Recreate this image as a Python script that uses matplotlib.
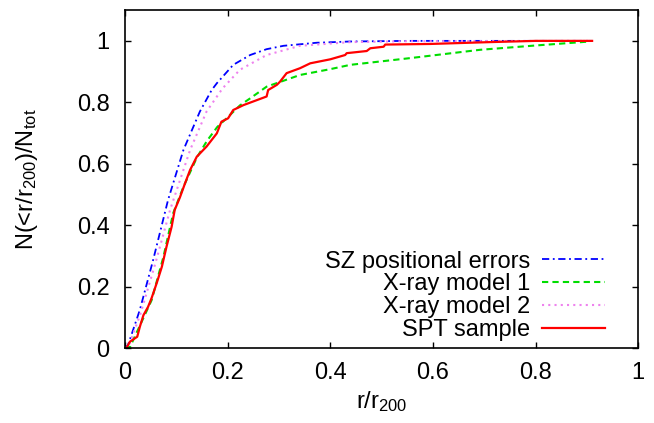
import matplotlib
matplotlib.use("Agg")
import matplotlib.pyplot as plt

# cumulative curves
sz_x = [0, 0.006, 0.029, 0.055, 0.084, 0.114, 0.146, 0.169, 0.179, 0.211, 0.244, 0.276, 0.309, 0.374, 0.439, 0.55, 0.91]
sz_y = [0, 0.01, 0.124, 0.287, 0.482, 0.645, 0.77, 0.84, 0.862, 0.922, 0.954, 0.973, 0.984, 0.994, 0.998, 1.0, 1.0]

xm1_x = [0, 0.01, 0.052, 0.075, 0.094, 0.114, 0.14, 0.16, 0.18, 0.198, 0.224, 0.244, 0.276, 0.341, 0.40, 0.439, 0.556, 0.692, 0.8, 0.906]
xm1_y = [0, 0.004, 0.156, 0.297, 0.439, 0.525, 0.62, 0.675, 0.72, 0.748, 0.79, 0.813, 0.851, 0.889, 0.908, 0.922, 0.944, 0.971, 0.985, 0.998]

xm2_x = [0, 0.008, 0.03, 0.06, 0.088, 0.127, 0.159, 0.19, 0.224, 0.276, 0.341, 0.439, 0.55, 0.91]
xm2_y = [0, 0.01, 0.11, 0.28, 0.45, 0.645, 0.77, 0.845, 0.906, 0.954, 0.984, 0.996, 0.999, 1.0]

spt_x = [0, 0.003, 0.0097, 0.024, 0.029, 0.036, 0.045, 0.052, 0.062, 0.072, 0.081, 0.091, 0.097, 0.107,
         0.117, 0.127, 0.140, 0.159, 0.179, 0.188, 0.201, 0.211, 0.231, 0.276, 0.279, 0.296, 0.302, 0.315,
         0.341, 0.361, 0.40, 0.429, 0.432, 0.471, 0.478, 0.504, 0.507, 0.595, 0.711, 0.8, 0.91]
spt_y = [0, 0, 0.021, 0.037, 0.069, 0.107, 0.134, 0.163, 0.212, 0.265, 0.330, 0.395, 0.450, 0.490,
         0.536, 0.58, 0.623, 0.656, 0.699, 0.737, 0.748, 0.775, 0.791, 0.819, 0.840, 0.857, 0.867, 0.895,
         0.911, 0.927, 0.940, 0.954, 0.960, 0.967, 0.976, 0.981, 0.988, 0.990, 0.996, 1.0, 1.0]

xticks = [0, 0.2, 0.4, 0.6, 0.8, 1]
yticks = [0, 0.2, 0.4, 0.6, 0.8, 1]
tick_labels = ['0', '0.2', '0.4', '0.6', '0.8', '1']

plt.rcParams['font.family'] = ['Liberation Sans', 'DejaVu Sans']
plt.rcParams['mathtext.default'] = 'regular'
fs = 17

fig = plt.figure(figsize=(6.54, 4.23), dpi=100)
ax = fig.add_axes([0.191, 0.177, 0.785, 0.799])

ax.plot(sz_x, sz_y, color='#0000ff', lw=1.3, dashes=(4, 2, 1, 2), label='SZ positional errors')
ax.plot(xm1_x, xm1_y, color='#00dd00', lw=1.5, dashes=(3, 2), label='X-ray model 1')
ax.plot(xm2_x, xm2_y, color='#ee82ee', lw=1.5, dashes=(1, 2), label='X-ray model 2')
ax.plot(spt_x, spt_y, color='#ff0000', lw=1.6, label='SPT sample')

ax.set_xlim(0, 1)
ax.set_ylim(0, 1.1)
ax.set_xticks(xticks)
ax.set_yticks(yticks)
ax.set_xticklabels(tick_labels)
ax.set_yticklabels(tick_labels)
ax.tick_params(direction='in', top=True, right=True, labelsize=fs, length=4.5, width=1)
ax.tick_params(axis='x', pad=10)
ax.tick_params(axis='y', pad=11)
for s in ax.spines.values():
    s.set_linewidth(1.2)

ax.set_xlabel('r/r$_{200}$', fontsize=fs)
ax.set_ylabel('N(<r/r$_{200}$)/N$_{tot}$', fontsize=fs)
ax.xaxis.set_label_coords(0.5, -0.12)
ax.yaxis.set_label_coords(-0.165, 0.5)

ax.legend(loc='lower right', bbox_to_anchor=(0.936, 0.02), markerfirst=False, frameon=False,
          fontsize=fs, handlelength=2.7, handletextpad=0.5, labelspacing=0.04,
          borderpad=0, borderaxespad=0)

fig.savefig('out.png', dpi=100)
